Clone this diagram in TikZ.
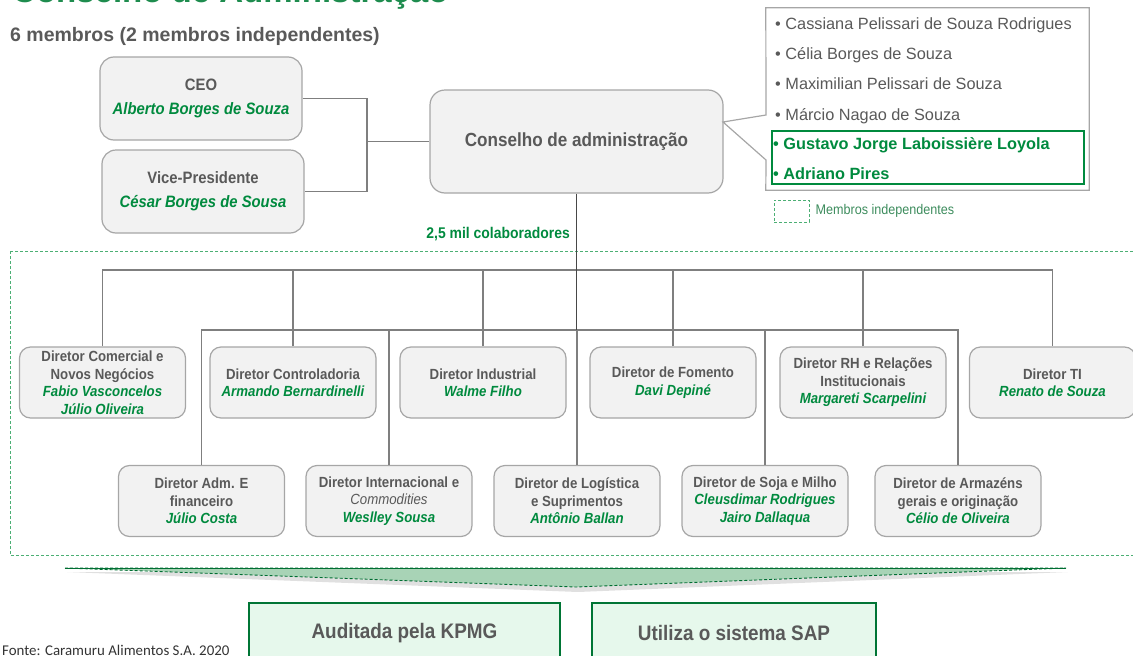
\documentclass[tikz,border=0pt]{standalone}
\usepackage{fontspec}
\setmainfont{Liberation Sans}
\newfontfamily\narrowfont[FakeStretch=0.9]{Liberation Sans}
\newfontfamily\notefont{Carlito}
\usetikzlibrary{positioning}
\definecolor{txtgray}{HTML}{595959}
\definecolor{boxgray}{HTML}{F2F2F2}
\definecolor{edgegray}{HTML}{A6A6A6}
\definecolor{linegray}{HTML}{7F7F7F}
\definecolor{namegreen}{HTML}{008A3E}
\definecolor{titlegreen}{HTML}{1E8C4E}
\definecolor{dashgreen}{HTML}{4CAF74}
\definecolor{arrowfill}{HTML}{A8D3B6}
\definecolor{mint}{HTML}{E6F8EC}
\newcommand\who[1]{{\color{namegreen}\itshape #1}}
\begin{document}
\begin{tikzpicture}[x=1pt,y=-1pt,
    box/.style={draw=edgegray,fill=boxgray,line width=1.2pt,rounded corners=11pt,align=center,inner sep=0pt,
        text=txtgray,font=\narrowfont\bfseries\fontsize{14.7}{17.5}\selectfont,minimum width=166pt,minimum height=71pt},
    topbox/.style={box,minimum width=202pt,minimum height=83pt,rounded corners=14pt,
        font=\narrowfont\bfseries\fontsize{16.5}{24}\selectfont},
    info/.style={draw=namegreen!85!black,fill=mint,line width=1.6pt,text=txtgray,minimum height=60pt,
        font=\narrowfont\bfseries\fontsize{21}{24}\selectfont},
    item/.style={anchor=base west,inner sep=0pt,text=txtgray,font=\fontsize{16.3}{18}\selectfont},
    conn/.style={draw=linegray,line width=1.2pt}]
    \useasboundingbox (0,0) rectangle (1133,656);
    \clip (0,0) rectangle (1133,656);
    \node[anchor=base west,inner sep=0pt,text=titlegreen,font=\bfseries\fontsize{33}{36}\selectfont] (title) at (12,2.5) {Conselho de Administração};
    \node[anchor=base west,inner sep=0pt,text=txtgray,font=\bfseries\fontsize{19.5}{22}\selectfont] (sub) at (10,41) {6 membros (2 membros independentes)};
    \node[topbox] (ceo) at (201,98.5) {CEO\\\who{Alberto Borges de Souza}};
    \node[topbox] (vice) at (203,191.5) {Vice-Presidente\\\who{César Borges de Sousa}};
    \node[topbox,minimum width=293pt,minimum height=103pt,rounded corners=15pt,font=\narrowfont\bfseries\fontsize{19}{22}\selectfont] (cons) at (576.5,141.5) {Conselho de administração};
    \coordinate (j) at (367,141.5);
    \draw[conn] (ceo.east) -| (j) |- (vice.east);
    \draw[conn] (j) -- (cons.west);
    % membros
    \node[minimum width=323pt,minimum height=182pt,inner sep=0pt] (lst) at (927.5,99) {};
    \coordinate (wa) at (766,115);
    \coordinate (wb) at (766,160);
    \coordinate (tip) at (723,122);
    \draw[edgegray,line width=1.2pt] (lst.north west) -- (lst.north east) -- (lst.south east) -- (lst.south west) -- (wb) -- (tip) -- (wa) -- cycle;
    \node[draw=namegreen,line width=1.2pt,minimum width=312pt,minimum height=53pt,inner sep=0pt] (ind) at (928,157.5) {};
    \foreach \y/\t in {23/Cassiana Pelissari de Souza Rodrigues,53/Célia Borges de Souza,83/Maximilian Pelissari de Souza,114/Márcio Nagao de Souza}
        \node[item] at (775,\y+6) {• \t};
    \foreach \y/\t in {143/Gustavo Jorge Laboissière Loyola,173/Adriano Pires}
        \node[item,text=namegreen,font=\bfseries\fontsize{16.3}{18}\selectfont] at (773,\y+6) {• \t};
    \node[draw=dashgreen,densely dashed,line width=0.8pt,minimum width=35pt,minimum height=22pt,inner sep=0pt] (key) at (791.5,211) {};
    \node[right=6pt of key,inner sep=0pt,text=dashgreen!80!black,font=\narrowfont\fontsize{14}{16}\selectfont] (keytxt) {Membros independentes};
    % diretoria
    \node[anchor=east,inner sep=0pt,text=namegreen,font=\narrowfont\bfseries\fontsize{15.5}{18}\selectfont] (staff) at (570,234) {2,5 mil colaboradores};
    \draw[dashgreen,densely dashed,line width=0.8pt] (10,251) rectangle (1145,555);
    \node[box] (com) at (102.5,382.5) {Diretor Comercial e\\Novos Negócios\\\who{Fabio Vasconcelos}\\\who{Júlio Oliveira}};
    \node[box] (ctr) at (293,382.5) {Diretor Controladoria\\\who{Armando Bernardinelli}};
    \node[box] (ind1) at (483,382.5) {Diretor Industrial\\\who{Walme Filho}};
    \node[box] (fom) at (673,382.5) {Diretor de Fomento\\\who{Davi Depiné}};
    \node[box] (rh) at (863,382.5) {Diretor RH e Relações\\Institucionais\\\who{Margareti Scarpelini}};
    \node[box] (ti) at (1052.5,382.5) {Diretor TI\\\who{Renato de Souza}};
    \node[box] (adm) at (201.5,501) {Diretor Adm. E\\financeiro\\\who{Júlio Costa}};
    \node[box] (int) at (389,501) {Diretor Internacional e\\{\mdseries\itshape Commodities}\\\who{Weslley Sousa}};
    \node[box] (log) at (577,501) {Diretor de Logística\\e Suprimentos\\\who{Antônio Ballan}};
    \node[box] (soja) at (765,501) {Diretor de Soja e Milho\\\who{Cleusdimar Rodrigues}\\\who{Jairo Dallaqua}};
    \node[box] (arm) at (958,501) {Diretor de Armazéns\\gerais e originação\\\who{Célio de Oliveira}};
    \coordinate (ub) at (576.5,270);
    \coordinate (lb) at (576.5,330);
    \draw[conn] (com.north) |- (ub) -| (ti.north);
    \foreach \n in {ctr,ind1,fom,rh}
        \draw[conn] (\n.north) -- (\n.north |- ub);
    \draw[conn] (adm.north) |- (lb) -| (arm.north);
    \foreach \n in {int,log,soja}
        \draw[conn] (\n.north) -- (\n.north |- lb);
    \draw[draw=txtgray!80!black,line width=1.6pt] (cons.south) -- (lb);
    % seta
    \fill[black,opacity=0.12] (67,572) -- (1068,572) -- (578,592) -- cycle;
    \filldraw[fill=arrowfill,draw=namegreen!80!black,densely dashed,line width=0.9pt] (65,568) -- (1066,568) -- (576,587) -- cycle;
    \draw[namegreen!80!black,line width=1pt] (65,568) -- (1066,568);
    \node[info,minimum width=311pt] (kpmg) at (404.5,633) {Auditada pela KPMG};
    \node[info,minimum width=284pt] (sap) at (734,633) {Utiliza o sistema SAP};
    \node[anchor=base west,inner sep=0pt,text=black!80,font=\notefont\fontsize{14.9}{16}\selectfont] (src) at (2,655) {Fonte: Caramuru Alimentos S.A. 2020};
\end{tikzpicture}
\end{document}
